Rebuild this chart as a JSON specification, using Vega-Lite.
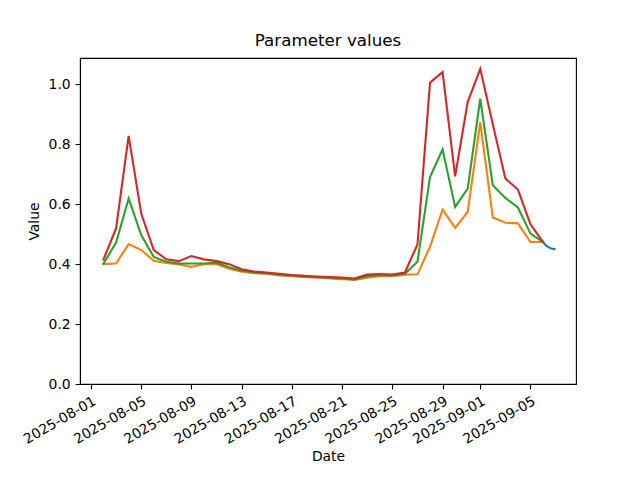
{
  "$schema": "https://vega.github.io/schema/vega-lite/v6.json",
  "autosize": {"type": "none"},
  "padding": {"left": 80, "top": 58, "right": 64, "bottom": 96},
  "width": 496,
  "height": 326,
  "background": "white",
  "config": {
    "font": "DejaVu Sans",
    "view": {"stroke": "black", "strokeWidth": 1.1},
    "axis": {"grid": false, "domainColor": "black", "tickColor": "black", "labelColor": "black", "titleColor": "black", "labelFontSize": 13.9, "titleFontSize": 13.9, "titleFontWeight": "normal", "labelFont": "DejaVu Sans", "titleFont": "DejaVu Sans", "tickSize": 4.9, "labelPadding": 4.9, "domainWidth": 1.1, "tickWidth": 1.1}
  },
  "title": {"text": "Parameter values", "fontSize": 16.7, "fontWeight": "normal", "font": "DejaVu Sans", "color": "black", "offset": 8, "anchor": "middle"},
  "data": {"values": [
    {"date": "2025-09-06T00:00", "series": "s0", "value": 0.474},
    {"date": "2025-09-06T04:00", "series": "s0", "value": 0.465},
    {"date": "2025-09-06T08:00", "series": "s0", "value": 0.459},
    {"date": "2025-09-06T12:00", "series": "s0", "value": 0.455},
    {"date": "2025-09-06T16:00", "series": "s0", "value": 0.452},
    {"date": "2025-09-06T20:00", "series": "s0", "value": 0.451},
    {"date": "2025-09-06T22:00", "series": "s0", "value": 0.45},

    {"date": "2025-08-02T00:00", "series": "s1", "value": 0.400},
    {"date": "2025-08-03T00:00", "series": "s1", "value": 0.402},
    {"date": "2025-08-04T00:00", "series": "s1", "value": 0.467},
    {"date": "2025-08-05T00:00", "series": "s1", "value": 0.447},
    {"date": "2025-08-06T00:00", "series": "s1", "value": 0.411},
    {"date": "2025-08-07T00:00", "series": "s1", "value": 0.404},
    {"date": "2025-08-08T00:00", "series": "s1", "value": 0.399},
    {"date": "2025-08-09T00:00", "series": "s1", "value": 0.391},
    {"date": "2025-08-10T00:00", "series": "s1", "value": 0.400},
    {"date": "2025-08-11T00:00", "series": "s1", "value": 0.400},
    {"date": "2025-08-12T00:00", "series": "s1", "value": 0.385},
    {"date": "2025-08-13T00:00", "series": "s1", "value": 0.375},
    {"date": "2025-08-14T00:00", "series": "s1", "value": 0.370},
    {"date": "2025-08-15T00:00", "series": "s1", "value": 0.367},
    {"date": "2025-08-16T00:00", "series": "s1", "value": 0.362},
    {"date": "2025-08-17T00:00", "series": "s1", "value": 0.360},
    {"date": "2025-08-18T00:00", "series": "s1", "value": 0.357},
    {"date": "2025-08-19T00:00", "series": "s1", "value": 0.355},
    {"date": "2025-08-20T00:00", "series": "s1", "value": 0.352},
    {"date": "2025-08-21T00:00", "series": "s1", "value": 0.350},
    {"date": "2025-08-22T00:00", "series": "s1", "value": 0.347},
    {"date": "2025-08-23T00:00", "series": "s1", "value": 0.355},
    {"date": "2025-08-24T00:00", "series": "s1", "value": 0.360},
    {"date": "2025-08-25T00:00", "series": "s1", "value": 0.360},
    {"date": "2025-08-26T00:00", "series": "s1", "value": 0.365},
    {"date": "2025-08-27T00:00", "series": "s1", "value": 0.366},
    {"date": "2025-08-28T00:00", "series": "s1", "value": 0.458},
    {"date": "2025-08-29T00:00", "series": "s1", "value": 0.582},
    {"date": "2025-08-30T00:00", "series": "s1", "value": 0.521},
    {"date": "2025-08-31T00:00", "series": "s1", "value": 0.574},
    {"date": "2025-09-01T00:00", "series": "s1", "value": 0.874},
    {"date": "2025-09-02T00:00", "series": "s1", "value": 0.556},
    {"date": "2025-09-03T00:00", "series": "s1", "value": 0.538},
    {"date": "2025-09-04T00:00", "series": "s1", "value": 0.536},
    {"date": "2025-09-05T00:00", "series": "s1", "value": 0.474},
    {"date": "2025-09-06T00:00", "series": "s1", "value": 0.474},

    {"date": "2025-08-02T00:00", "series": "s2", "value": 0.402},
    {"date": "2025-08-03T00:00", "series": "s2", "value": 0.472},
    {"date": "2025-08-04T00:00", "series": "s2", "value": 0.619},
    {"date": "2025-08-05T00:00", "series": "s2", "value": 0.497},
    {"date": "2025-08-06T00:00", "series": "s2", "value": 0.424},
    {"date": "2025-08-07T00:00", "series": "s2", "value": 0.408},
    {"date": "2025-08-08T00:00", "series": "s2", "value": 0.402},
    {"date": "2025-08-09T00:00", "series": "s2", "value": 0.402},
    {"date": "2025-08-10T00:00", "series": "s2", "value": 0.402},
    {"date": "2025-08-11T00:00", "series": "s2", "value": 0.405},
    {"date": "2025-08-12T00:00", "series": "s2", "value": 0.390},
    {"date": "2025-08-13T00:00", "series": "s2", "value": 0.378},
    {"date": "2025-08-14T00:00", "series": "s2", "value": 0.372},
    {"date": "2025-08-15T00:00", "series": "s2", "value": 0.370},
    {"date": "2025-08-16T00:00", "series": "s2", "value": 0.365},
    {"date": "2025-08-17T00:00", "series": "s2", "value": 0.362},
    {"date": "2025-08-18T00:00", "series": "s2", "value": 0.358},
    {"date": "2025-08-19T00:00", "series": "s2", "value": 0.357},
    {"date": "2025-08-20T00:00", "series": "s2", "value": 0.354},
    {"date": "2025-08-21T00:00", "series": "s2", "value": 0.352},
    {"date": "2025-08-22T00:00", "series": "s2", "value": 0.349},
    {"date": "2025-08-23T00:00", "series": "s2", "value": 0.360},
    {"date": "2025-08-24T00:00", "series": "s2", "value": 0.364},
    {"date": "2025-08-25T00:00", "series": "s2", "value": 0.362},
    {"date": "2025-08-26T00:00", "series": "s2", "value": 0.368},
    {"date": "2025-08-27T00:00", "series": "s2", "value": 0.408},
    {"date": "2025-08-28T00:00", "series": "s2", "value": 0.691},
    {"date": "2025-08-29T00:00", "series": "s2", "value": 0.783},
    {"date": "2025-08-30T00:00", "series": "s2", "value": 0.591},
    {"date": "2025-08-31T00:00", "series": "s2", "value": 0.652},
    {"date": "2025-09-01T00:00", "series": "s2", "value": 0.952},
    {"date": "2025-09-02T00:00", "series": "s2", "value": 0.663},
    {"date": "2025-09-03T00:00", "series": "s2", "value": 0.621},
    {"date": "2025-09-04T00:00", "series": "s2", "value": 0.589},
    {"date": "2025-09-05T00:00", "series": "s2", "value": 0.502},
    {"date": "2025-09-06T00:00", "series": "s2", "value": 0.474},

    {"date": "2025-08-02T00:00", "series": "s3", "value": 0.416},
    {"date": "2025-08-03T00:00", "series": "s3", "value": 0.519},
    {"date": "2025-08-04T00:00", "series": "s3", "value": 0.828},
    {"date": "2025-08-05T00:00", "series": "s3", "value": 0.569},
    {"date": "2025-08-06T00:00", "series": "s3", "value": 0.447},
    {"date": "2025-08-07T00:00", "series": "s3", "value": 0.416},
    {"date": "2025-08-08T00:00", "series": "s3", "value": 0.410},
    {"date": "2025-08-09T00:00", "series": "s3", "value": 0.427},
    {"date": "2025-08-10T00:00", "series": "s3", "value": 0.416},
    {"date": "2025-08-11T00:00", "series": "s3", "value": 0.410},
    {"date": "2025-08-12T00:00", "series": "s3", "value": 0.400},
    {"date": "2025-08-13T00:00", "series": "s3", "value": 0.383},
    {"date": "2025-08-14T00:00", "series": "s3", "value": 0.375},
    {"date": "2025-08-15T00:00", "series": "s3", "value": 0.372},
    {"date": "2025-08-16T00:00", "series": "s3", "value": 0.368},
    {"date": "2025-08-17T00:00", "series": "s3", "value": 0.364},
    {"date": "2025-08-18T00:00", "series": "s3", "value": 0.361},
    {"date": "2025-08-19T00:00", "series": "s3", "value": 0.359},
    {"date": "2025-08-20T00:00", "series": "s3", "value": 0.357},
    {"date": "2025-08-21T00:00", "series": "s3", "value": 0.355},
    {"date": "2025-08-22T00:00", "series": "s3", "value": 0.352},
    {"date": "2025-08-23T00:00", "series": "s3", "value": 0.365},
    {"date": "2025-08-24T00:00", "series": "s3", "value": 0.367},
    {"date": "2025-08-25T00:00", "series": "s3", "value": 0.365},
    {"date": "2025-08-26T00:00", "series": "s3", "value": 0.372},
    {"date": "2025-08-27T00:00", "series": "s3", "value": 0.466},
    {"date": "2025-08-28T00:00", "series": "s3", "value": 1.006},
    {"date": "2025-08-29T00:00", "series": "s3", "value": 1.041},
    {"date": "2025-08-30T00:00", "series": "s3", "value": 0.693},
    {"date": "2025-08-31T00:00", "series": "s3", "value": 0.941},
    {"date": "2025-09-01T00:00", "series": "s3", "value": 1.052},
    {"date": "2025-09-02T00:00", "series": "s3", "value": 0.867},
    {"date": "2025-09-03T00:00", "series": "s3", "value": 0.686},
    {"date": "2025-09-04T00:00", "series": "s3", "value": 0.649},
    {"date": "2025-09-05T00:00", "series": "s3", "value": 0.533},
    {"date": "2025-09-06T00:00", "series": "s3", "value": 0.474}
  ]},
  "mark": {"type": "line", "strokeWidth": 2.1, "strokeCap": "square", "clip": true},
  "encoding": {
    "x": {
      "field": "date", "type": "temporal", "title": "Date",
      "scale": {"domain": [{"year": 2025, "month": 7, "date": 31, "hours": 3}, {"year": 2025, "month": 9, "date": 8, "hours": 15}], "nice": false},
      "axis": {
        "values": [
          {"year": 2025, "month": 8, "date": 1},
          {"year": 2025, "month": 8, "date": 5},
          {"year": 2025, "month": 8, "date": 9},
          {"year": 2025, "month": 8, "date": 13},
          {"year": 2025, "month": 8, "date": 17},
          {"year": 2025, "month": 8, "date": 21},
          {"year": 2025, "month": 8, "date": 25},
          {"year": 2025, "month": 8, "date": 29},
          {"year": 2025, "month": 9, "date": 1},
          {"year": 2025, "month": 9, "date": 5}
        ],
        "format": "%Y-%m-%d", "labelAngle": -30, "labelAlign": "right", "labelBaseline": "top", "labelDx": -7, "labelDy": 0, "labelOverlap": false, "labelFlush": false, "titlePadding": 3
      }
    },
    "y": {
      "field": "value", "type": "quantitative", "title": "Value",
      "scale": {"domain": [0, 1.088], "nice": false, "zero": true},
      "axis": {"values": [0, 0.2, 0.4, 0.6, 0.8, 1.0], "format": ".1f", "titlePadding": 7}
    },
    "color": {
      "field": "series", "type": "nominal", "legend": null,
      "scale": {"domain": ["s0", "s1", "s2", "s3"], "range": ["#1f77b4", "#ff7f0e", "#2ca02c", "#d62728"]}
    },
    "order": {"field": "date", "type": "temporal"}
  }
}
